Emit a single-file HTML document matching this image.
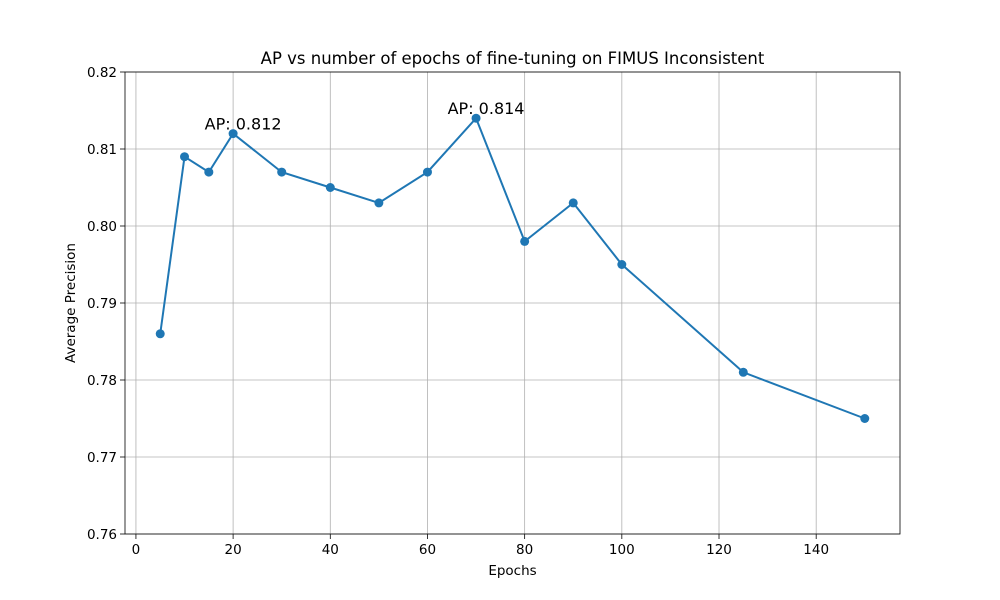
<!DOCTYPE html>
<html><head><meta charset="utf-8"><style>
body{margin:0;background:#fff;}
svg{display:block;font-family:"DejaVu Sans","Liberation Sans",sans-serif;}
</style></head><body>
<svg id="chart" width="1000" height="600"></svg>
<script>
const epochs=[5,10,15,20,30,40,50,60,70,80,90,100,125,150];
const apValues=[0.786,0.809,0.807,0.812,0.807,0.805,0.803,0.807,0.814,0.798,0.803,0.795,0.781,0.775];
const xTicks=[0,20,40,60,80,100,120,140];
const yTicks=[0.76,0.77,0.78,0.79,0.80,0.81,0.82];
const annotations=[{x:20,y:0.812,label:"AP: 0.812"},{x:70,y:0.814,label:"AP: 0.814"}];

const L=125,R=900,T=72,B=534;
const xmin=-2.25,xmax=157.25,ymin=0.76,ymax=0.82;
const sx=v=>L+(v-xmin)/(xmax-xmin)*(R-L);
const sy=v=>B-(v-ymin)/(ymax-ymin)*(B-T);
const svg=document.getElementById('chart');
const NS='http://www.w3.org/2000/svg';
function mk(tag,attrs,parent){const e=document.createElementNS(NS,tag);for(const k in attrs)e.setAttribute(k,attrs[k]);(parent||svg).appendChild(e);return e;}

xTicks.forEach(t=>{
  const x=sx(t);
  const g=mk('line',{x1:x,x2:x,y1:T,y2:B,stroke:'#b0b0b0','stroke-width':0.8});
  
  
  mk('line',{x1:x,x2:x,y1:B,y2:B+5,stroke:'#000','stroke-width':0.8});
  const tx=mk('text',{x:x,y:B+20,'text-anchor':'middle','font-size':13.5});
  tx.textContent=t;
  
  
});
yTicks.forEach(t=>{
  const y=sy(t);
  const g=mk('line',{x1:L,x2:R,y1:y,y2:y,stroke:'#b0b0b0','stroke-width':0.8});
  
  
  mk('line',{x1:L-5,x2:L,y1:y,y2:y,stroke:'#000','stroke-width':0.8});
  const tx=mk('text',{x:L-8,y:y+5,'text-anchor':'end','font-size':13.5});
  tx.textContent=t.toFixed(2);
  
  
});
const frame=mk('rect',{x:L,y:T,width:R-L,height:B-T,fill:'none',stroke:'#000','stroke-width':0.8});



const pts=epochs.map((e,i)=>sx(e)+','+sy(apValues[i])).join(' ');
const line=mk('polyline',{points:pts,fill:'none',stroke:'#1f77b4','stroke-width':2});


epochs.forEach((e,i)=>{
  const c=mk('circle',{cx:sx(e),cy:sy(apValues[i]),r:4.5,fill:'#1f77b4'});
  
  
});
annotations.forEach(a=>{
  const tx=mk('text',{x:sx(a.x)+10,y:sy(a.y)-4,'text-anchor':'middle','font-size':16});
  tx.textContent=a.label;
  
  
});
const title=mk('text',{x:(L+R)/2,y:64,'text-anchor':'middle','font-size':16.5});
title.textContent='AP vs number of epochs of fine-tuning on FIMUS Inconsistent';


const xl=mk('text',{x:(L+R)/2,y:575,'text-anchor':'middle','font-size':13.5});
xl.textContent='Epochs';


const yl=mk('text',{x:0,y:0,'text-anchor':'middle','font-size':13.5,transform:'translate(75,303) rotate(-90)'});
yl.textContent='Average Precision';


</script>
</body></html>
